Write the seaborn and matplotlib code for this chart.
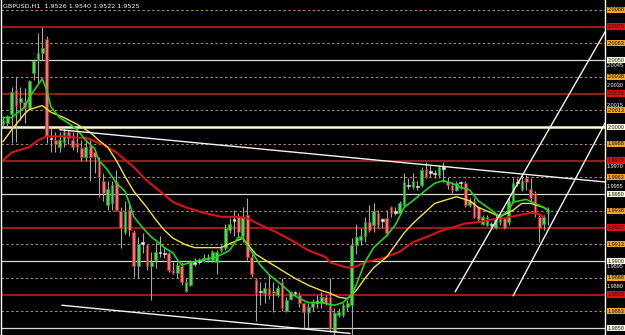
import numpy as np
import matplotlib
matplotlib.use("Agg")
import matplotlib.pyplot as plt
import seaborn as sns

# --- DATA ---
title_text = "GBPUSD,H1  1.9526 1.9540 1.9522 1.9525"

opens = [2.0002, 2.0003, 2.0010, 2.0028, 2.0019, 2.0019, 2.0014, 2.0040, 2.0050, 2.0055,
         2.0066, 1.9992, 1.9990, 1.9985, 1.9989, 1.9996, 1.9990, 1.9988, 1.9984, 1.9978,
         1.9986, 1.9981, 1.9975, 1.9960, 1.9942, 1.9943, 1.9959, 1.9937, 1.9922, 1.9938,
         1.9922, 1.9896, 1.9914, 1.9912, 1.9896, 1.9901, 1.9907, 1.9906, 1.9906, 1.9893,
         1.9891, 1.9896, 1.9878, 1.9882, 1.9898, 1.9899, 1.9900, 1.9901, 1.9901, 1.9899,
         1.9908, 1.9910, 1.9923, 1.9930, 1.9933, 1.9919, 1.9934, 1.9903, 1.9886, 1.9877,
         1.9876, 1.9880, 1.9878, 1.9875, 1.9884, 1.9863, 1.9872, 1.9876, 1.9875, 1.9869,
         1.9862, 1.9866, 1.9869, 1.9869, 1.9873, 1.9873, 1.9847, 1.9860, 1.9860, 1.9866,
         1.9867, 1.9912, 1.9916, 1.9919, 1.9929, 1.9927, 1.9936, 1.9930, 1.9932, 1.9940,
         1.9936, 1.9936, 1.9942, 1.9956, 1.9955, 1.9955, 1.9957, 1.9969, 1.9966, 1.9965,
         1.9964, 1.9969, 1.9959, 1.9957, 1.9953, 1.9958, 1.9958, 1.9942, 1.9945, 1.9940,
         1.9928, 1.9927, 1.9927, 1.9925, 1.9929, 1.9932, 1.9929, 1.9945, 1.9958, 1.9954,
         1.9962, 1.9954, 1.9951, 1.9933, 1.9928, 1.9936]
highs = [2.0008, 2.0009, 2.0030, 2.0037, 2.0030, 2.0029, 2.0035, 2.0051, 2.0070, 2.0075,
         2.0068, 2.0000, 1.9996, 1.9996, 1.9999, 1.9998, 1.9996, 1.9996, 1.9990, 1.9990,
         1.9992, 1.9983, 1.9978, 1.9966, 1.9960, 1.9960, 1.9968, 1.9940, 1.9945, 1.9943,
         1.9923, 1.9918, 1.9921, 1.9913, 1.9907, 1.9914, 1.9919, 1.9910, 1.9907, 1.9899,
         1.9899, 1.9899, 1.9887, 1.9901, 1.9902, 1.9902, 1.9905, 1.9905, 1.9908, 1.9908,
         1.9912, 1.9928, 1.9932, 1.9938, 1.9936, 1.9940, 1.9947, 1.9905, 1.9887, 1.9884,
         1.9884, 1.9890, 1.9884, 1.9882, 1.9887, 1.9873, 1.9878, 1.9878, 1.9877, 1.9869,
         1.9869, 1.9872, 1.9875, 1.9877, 1.9875, 1.9887, 1.9865, 1.9865, 1.9869, 1.9871,
         1.9917, 1.9928, 1.9925, 1.9933, 1.9942, 1.9943, 1.9938, 1.9932, 1.9938, 1.9941,
         1.9940, 1.9945, 1.9966, 1.9962, 1.9966, 1.9960, 1.9970, 1.9974, 1.9972, 1.9968,
         1.9972, 1.9974, 1.9963, 1.9959, 1.9960, 1.9960, 1.9960, 1.9947, 1.9947, 1.9941,
         1.9934, 1.9934, 1.9929, 1.9934, 1.9936, 1.9933, 1.9948, 1.9962, 1.9962, 1.9964,
         1.9964, 1.9962, 1.9952, 1.9934, 1.9934, 1.9940]
lows = [1.9999, 2.0000, 1.9988, 1.9989, 2.0005, 2.0003, 2.0013, 2.0035, 2.0033, 2.0050,
        1.9988, 1.9981, 1.9981, 1.9981, 1.9985, 1.9987, 1.9983, 1.9981, 1.9975, 1.9975,
        1.9960, 1.9966, 1.9948, 1.9945, 1.9938, 1.9938, 1.9937, 1.9910, 1.9920, 1.9919,
        1.9888, 1.9887, 1.9906, 1.9893, 1.9871, 1.9895, 1.9903, 1.9902, 1.9892, 1.9890,
        1.9887, 1.9882, 1.9877, 1.9881, 1.9896, 1.9898, 1.9899, 1.9899, 1.9899, 1.9890,
        1.9907, 1.9908, 1.9921, 1.9919, 1.9918, 1.9914, 1.9901, 1.9888, 1.9855, 1.9867,
        1.9869, 1.9872, 1.9862, 1.9873, 1.9863, 1.9862, 1.9871, 1.9874, 1.9866, 1.9850,
        1.9850, 1.9863, 1.9865, 1.9865, 1.9867, 1.9847, 1.9845, 1.9858, 1.9858, 1.9863,
        1.9845, 1.9905, 1.9912, 1.9914, 1.9922, 1.9922, 1.9925, 1.9925, 1.9919, 1.9933,
        1.9934, 1.9934, 1.9940, 1.9954, 1.9954, 1.9953, 1.9955, 1.9962, 1.9963, 1.9962,
        1.9962, 1.9959, 1.9954, 1.9951, 1.9952, 1.9954, 1.9940, 1.9940, 1.9932, 1.9929,
        1.9927, 1.9926, 1.9925, 1.9924, 1.9927, 1.9924, 1.9927, 1.9943, 1.9956, 1.9952,
        1.9953, 1.9945, 1.9933, 1.9914, 1.9923, 1.9927]
closes = [2.0005, 2.0008, 2.0026, 2.0016, 2.0022, 2.0014, 2.0034, 2.0049, 2.0055, 2.0059,
          1.9993, 1.9991, 1.9987, 1.9990, 1.9996, 1.9992, 1.9985, 1.9985, 1.9978, 1.9985,
          1.9978, 1.9978, 1.9963, 1.9951, 1.9954, 1.9957, 1.9938, 1.9925, 1.9937, 1.9923,
          1.9896, 1.9913, 1.9913, 1.9896, 1.9899, 1.9907, 1.9906, 1.9905, 1.9893, 1.9891,
          1.9897, 1.9884, 1.9884, 1.9899, 1.9899, 1.9900, 1.9902, 1.9903, 1.9907, 1.9907,
          1.9910, 1.9925, 1.9928, 1.9931, 1.9922, 1.9933, 1.9903, 1.9890, 1.9876, 1.9878,
          1.9880, 1.9875, 1.9876, 1.9880, 1.9865, 1.9871, 1.9877, 1.9877, 1.9869, 1.9862,
          1.9866, 1.9869, 1.9870, 1.9873, 1.9869, 1.9849, 1.9861, 1.9862, 1.9867, 1.9869,
          1.9912, 1.9918, 1.9919, 1.9929, 1.9923, 1.9937, 1.9927, 1.9931, 1.9921, 1.9936,
          1.9937, 1.9943, 1.9959, 1.9957, 1.9960, 1.9956, 1.9968, 1.9963, 1.9967, 1.9966,
          1.9970, 1.9970, 1.9957, 1.9953, 1.9958, 1.9959, 1.9942, 1.9945, 1.9933, 1.9931,
          1.9933, 1.9933, 1.9928, 1.9931, 1.9934, 1.9925, 1.9945, 1.9958, 1.9959, 1.9960,
          1.9959, 1.9947, 1.9936, 1.9925, 1.9933, 1.9938]

# moving averages (read at sample bars)
green_idx = [0, 2, 5, 6, 9, 10, 11, 13, 15, 17, 19, 21, 22, 24, 26, 28, 29, 30, 32, 34,
             36, 37, 39, 40, 41, 43, 46, 49, 52, 54, 55, 57, 59, 61, 64, 66, 68, 70, 73, 76,
             78, 80, 81, 83, 85, 88, 90, 92, 94, 97, 99, 101, 103, 105, 107, 109, 112, 114, 116, 117,
             120, 122, 124, 125]
green_val = [2.0007, 2.0007, 2.0015, 2.0022, 2.0036, 2.0028, 2.0015, 2.0007, 2.0003, 1.9998,
             1.9990, 1.9984, 1.9975, 1.9968, 1.9958, 1.9952, 1.9943, 1.9933, 1.9925, 1.9918,
             1.9913, 1.9910, 1.9906, 1.9901, 1.9897, 1.9899, 1.9901, 1.9903, 1.9908, 1.9918,
             1.9917, 1.9907, 1.9897, 1.9890, 1.9882, 1.9876, 1.9872, 1.9869, 1.9869, 1.9867,
             1.9869, 1.9875, 1.9882, 1.9899, 1.9910, 1.9919, 1.9927, 1.9940, 1.9945, 1.9953,
             1.9958, 1.9960, 1.9958, 1.9955, 1.9953, 1.9945, 1.9938, 1.9933, 1.9938, 1.9944,
             1.9946, 1.9943, 1.9940, 1.9938]
yellow_idx = [0, 2, 5, 6, 9, 11, 14, 17, 20, 22, 24, 26, 28, 30, 33, 35, 37, 39, 42, 44,
              46, 50, 52, 55, 56, 58, 61, 64, 67, 70, 73, 75, 77, 79, 81, 83, 85, 88, 90, 92,
              94, 97, 99, 101, 104, 107, 109, 112, 114, 117, 119, 121, 124, 125]
yellow_val = [1.9989, 1.9998, 2.0010, 2.0013, 2.0016, 2.0011, 2.0007, 2.0002, 1.9996, 1.9990,
              1.9985, 1.9975, 1.9963, 1.9952, 1.9940, 1.9931, 1.9923, 1.9917, 1.9912, 1.9910,
              1.9910, 1.9910, 1.9913, 1.9917, 1.9913, 1.9905, 1.9899, 1.9893, 1.9887, 1.9882,
              1.9878, 1.9876, 1.9873, 1.9872, 1.9878, 1.9887, 1.9895, 1.9903, 1.9912, 1.9921,
              1.9928, 1.9937, 1.9943, 1.9945, 1.9948, 1.9945, 1.9940, 1.9936, 1.9933, 1.9938,
              1.9943, 1.9943, 1.9940, 1.9938]
red_idx = [0, 2, 6, 8, 10, 11, 15, 17, 19, 22, 23, 26, 30, 33, 36, 39, 42, 46, 50, 54,
           56, 59, 63, 67, 70, 74, 75, 79, 81, 83, 87, 91, 94, 98, 100, 103, 106, 109, 112, 115,
           118, 121, 123, 124]
red_val = [1.9975, 1.9981, 1.9985, 1.9990, 1.9993, 1.9993, 1.9993, 1.9992, 1.9992, 1.9988,
           1.9987, 1.9981, 1.9970, 1.9960, 1.9952, 1.9944, 1.9940, 1.9936, 1.9933, 1.9933,
           1.9932, 1.9927, 1.9921, 1.9914, 1.9908, 1.9903, 1.9899, 1.9895, 1.9896, 1.9899,
           1.9902, 1.9907, 1.9914, 1.9919, 1.9922, 1.9925, 1.9928, 1.9929, 1.9931, 1.9932,
           1.9934, 1.9936, 1.9935, 1.9933]

# hand drawn trend lines: (bar, price) pairs
trend_upper = [(13, 1.9998), (138.1, 1.9959)]
trend_lower = [(13.5, 1.9867), (79.6, 1.9846)]
channel_a = [(103.7, 1.9877), (138.1, 2.0071)]
channel_b = [(117.0, 1.9874), (138.1, 2.0003)]

# horizontal levels and their kind
level_prices = [2.00875, 2.0075, 2.00625, 2.0050, 2.00375, 2.0025, 2.00125, 2.0000,
                1.99875, 1.9975, 1.99625, 1.9950, 1.99375, 1.9925, 1.99125, 1.9900,
                1.98875, 1.9875, 1.98625, 1.9850]
level_kinds = ["dash", "red", "dash", "white", "dash", "red", "dash", "main",
               "dash", "red", "dash", "white", "dash", "red", "dash", "white",
               "dash", "red", "dash", "white"]
level_labels = ["2.0088", "2.0075", "2.0063", "2.0050", "2.0038", "2.0025", "2.0013", "2.0000",
                "1.9988", "1.9975", "1.9963", "1.9950", "1.9938", "1.9925", "1.9913", "1.9900",
                "1.9888", "1.9875", "1.9863", "1.9850"]
# price scale labels that are not hidden behind the level boxes
scale_ticks = [2.0045, 2.0030, 2.0015, 1.9970, 1.9955, 1.9895, 1.9880]

# --- STYLE ---
sns.set_theme(style="dark", rc={"axes.facecolor": "black", "figure.facecolor": "black"})
plt.rcParams['font.family'] = ['DejaVu Sans']
NARROW = ['Liberation Sans', 'DejaVu Sans']

line_style = {
    "dash": dict(color="#b89068", lw=0.7, ls=(0, (2.5, 2.5))),
    "red": dict(color="#9c1c1c", lw=1.4, ls="-"),
    "white": dict(color="#d8d8cc", lw=0.9, ls="-"),
    "main": dict(color="#fffbd8", lw=1.8, ls="-"),
}
box_color = {"dash": "#f0a428", "red": "#e01010", "white": "#fffde0", "main": "#fffde0"}

fig = plt.figure(figsize=(6.25, 3.35), dpi=100)
ax = fig.add_axes([1 / 625, 0, 604 / 625, 1])
ax.set_facecolor("black")
ax.set_xlim(-0.46, 138.07)
ax.set_ylim(1.98448, 2.00948)

for p, k in zip(level_prices, level_kinds):
    ax.axhline(p, zorder=1, **line_style[k])

# candles
o = np.array(opens); h = np.array(highs); l = np.array(lows); c = np.array(closes)
x = np.arange(len(o))
ax.vlines(x, l, h, color="#a8a8a8", lw=0.8, zorder=2)
diff = c - o
face, edge = [], []
for d in diff:
    if abs(d) < 0.00012:
        face.append("#f0f0f0"); edge.append("#d0d0d0")
    elif d > 0:
        face.append("#5ad25a"); edge.append("#1f9e1f")
    else:
        face.append("#f07575"); edge.append("#c02020")
body_h = np.maximum(np.abs(diff), 0.00007)
ax.bar(x, body_h, bottom=np.minimum(o, c), width=0.62, color=face,
       edgecolor=edge, linewidth=0.5, zorder=3)

# moving averages
sns.lineplot(x=red_idx, y=red_val, ax=ax, color="#d81414", lw=1.5, zorder=4)
sns.lineplot(x=yellow_idx, y=yellow_val, ax=ax, color="#f2e43c", lw=1.0, zorder=4)
sns.lineplot(x=green_idx, y=green_val, ax=ax, color="#22d422", lw=1.2, zorder=5)

# trend lines
for seg in (trend_upper, trend_lower, channel_a, channel_b):
    (x0, y0), (x1, y1) = seg
    ax.plot([x0, x1], [y0, y1], color="#f4f4f4", lw=1.0, zorder=6)

# price scale on the right
yt = ax.get_yaxis_transform()
for p in scale_ticks:
    ax.text(1.003, p + 0.00008, f"{p:.4f}", transform=yt, color="white", fontsize=4.0,
            family=NARROW, va="center", ha="left", clip_on=False, zorder=7)
for p, k, lab in zip(level_prices, level_kinds, level_labels):
    ax.text(1.004, p, lab, transform=yt, color="#101010", fontsize=4.0,
            family=NARROW, va="center", ha="left", clip_on=False, zorder=8,
            bbox=dict(boxstyle="square,pad=0.12", fc=box_color[k], ec="none"))

ax.text(0.004, 0.988, title_text, transform=ax.transAxes, color="white",
        fontsize=4.6, va="top", ha="left", zorder=9)

for side in ("top", "bottom"):
    ax.spines[side].set_visible(False)
for side in ("left", "right"):
    ax.spines[side].set_visible(True)
    ax.spines[side].set_color("white")
    ax.spines[side].set_linewidth(1.0)
ax.set_xticks([]); ax.set_yticks([])
ax.set_xlabel(""); ax.set_ylabel("")
ax.grid(False)

fig.savefig("out.png", dpi=100, facecolor="black")
